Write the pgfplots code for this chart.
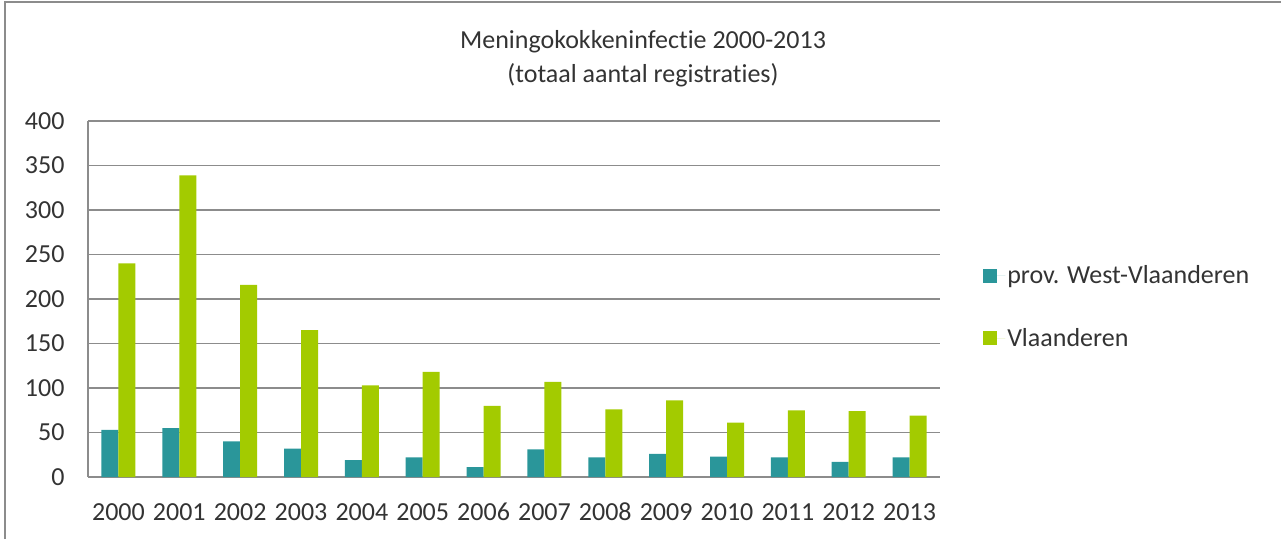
\documentclass[border=0pt]{standalone}
\usepackage{fontspec}
\setmainfont{Carlito}[Ligatures={NoCommon,NoRare,NoContextual}]
\usepackage{pgfplots}
\pgfplotsset{compat=1.18}
\definecolor{teal1}{RGB}{42,150,154}
\definecolor{green1}{RGB}{163,203,0}
\definecolor{gridgray}{RGB}{140,140,140}
\definecolor{txt}{RGB}{51,51,51}
\begin{document}
\begin{tikzpicture}[x=1pt,y=1pt]
\useasboundingbox (0,0) rectangle (1281,539);
\draw[gridgray,line width=1.5pt] (5,0) -- (5,537) -- (1281,537);
\node[font=\fontsize{26}{30}\selectfont,text=txt] at (643,497) {Meningokokkeninfectie 2000-2013};
\node[font=\fontsize{26}{30}\selectfont,text=txt] at (643,464) {(totaal aantal registraties)};
\begin{axis}[
  at={(88pt,62pt)}, anchor=south west,
  scale only axis, width=852pt, height=356pt,
  ybar=0pt, bar width=17pt,
  xmin=-0.5, xmax=13.5, ymin=0, ymax=400,
  xtick=data,
  xticklabels={2000,2001,2002,2003,2004,2005,2006,2007,2008,2009,2010,2011,2012,2013},
  ytick={0,50,100,150,200,250,300,350,400},
  major tick length=0pt,
  ymajorgrids, grid style={gridgray,line width=1.5pt},
  axis x line*=bottom, axis y line*=left,
  axis line style={gridgray,line width=1.5pt},
  tick label style={font=\fontsize{26}{30}\selectfont,text=txt},
  /pgf/number format/assume math mode=true,
  yticklabel style={xshift=-20pt},
  xticklabel style={yshift=-22pt,text height=18pt,text depth=0pt},
  legend style={at={(1.047,0.478)},anchor=west,draw=none,fill=none,
    font=\fontsize{26}{30}\selectfont,text=txt,row sep=39pt},
  legend cell align=left,
  legend image code/.code={\path (0pt,0pt) -- (22pt,0pt);\fill[#1] (0pt,-7pt) rectangle (14pt,7pt);},
]
\addplot[fill=teal1,draw=none] coordinates {(0,53) (1,55) (2,40) (3,32) (4,19) (5,22) (6,11) (7,31) (8,22) (9,26) (10,23) (11,22) (12,17) (13,22)};
\addplot[fill=green1,draw=none] coordinates {(0,240) (1,339) (2,216) (3,165) (4,103) (5,118) (6,80) (7,107) (8,76) (9,86) (10,61) (11,75) (12,74) (13,69)};
\legend{prov. West-Vlaanderen,Vlaanderen}
\end{axis}
\end{tikzpicture}
\end{document}
